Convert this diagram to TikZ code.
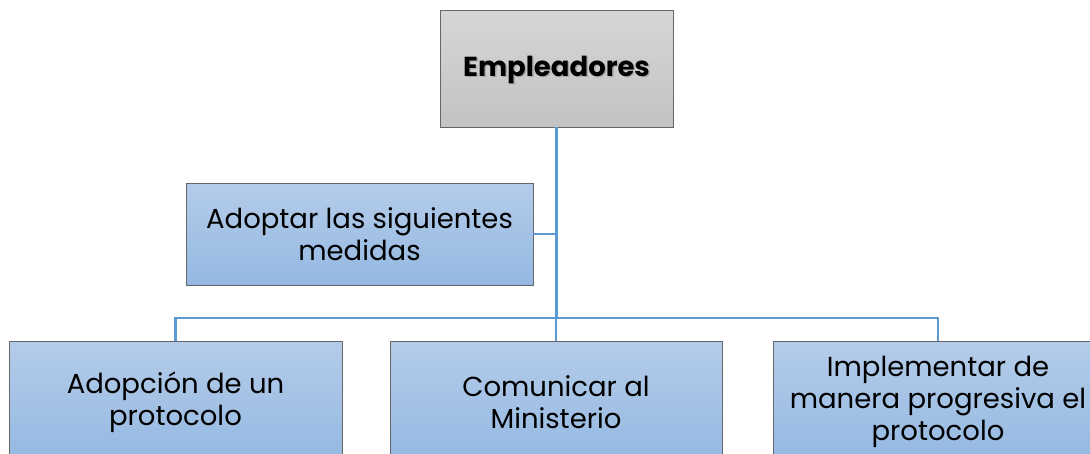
\documentclass[tikz,border=0pt]{standalone}
\usepackage{fontspec}
\setmainfont{Poppins}
\definecolor{linkblue}{HTML}{5B9BD5}
\definecolor{boxtop}{HTML}{B4CCE9}
\definecolor{boxbot}{HTML}{94B8E2}
\definecolor{greytop}{HTML}{D6D6D6}
\definecolor{greybot}{HTML}{C3C3C3}
\usetikzlibrary{shadings}
\tikzset{
  bluebox/.style={draw=gray!80!black, top color=boxtop, bottom color=boxbot,
    align=center, inner sep=0pt, font=\fontsize{27.5}{32}\selectfont},
  greybox/.style={draw=gray!80!black, top color=greytop, bottom color=greybot,
    align=center, inner sep=0pt, font=\bfseries\fontsize{27.5}{32}\selectfont},
  link/.style={draw=linkblue, line width=2.6pt}
}
\begin{document}
\begin{tikzpicture}[x=1pt,y=-1pt]
      \useasboundingbox (0,0) rectangle (1090,453);
      \clip (0,0) rectangle (1090,453);
      \node[greybox, minimum width=233pt, minimum height=117pt] (emp) at (556.5,68.5) {};
      \node[font=\bfseries\fontsize{27.5}{32}\selectfont, text=gray!70] at ([shift={(1.5,2)}]emp.center) {Empleadores};
      \node[font=\bfseries\fontsize{27.5}{32}\selectfont] (emptxt) at ([shift={(0,1)}]emp.center) {Empleadores};
      \node[bluebox, minimum width=347pt, minimum height=102pt] (med) at (359.5,234) {Adoptar las siguientes\\medidas};
      \node[bluebox, minimum width=333pt, minimum height=122pt] (proto) at (175.5,402) {Adopción de un\\protocolo};
      \node[bluebox, minimum width=332pt, minimum height=122pt] (minis) at (556,402) {Comunicar al\\Ministerio};
      \node[bluebox, minimum width=330pt, minimum height=122pt] (prog) at (938,402) {Implementar de\\manera progresiva el\\protocolo};
      \coordinate (bar) at (556.5,318);
      \draw[link] (emp.south) -- (bar);
      \draw[link] (med.east) -- (med.east -| emp.south);
      \draw[link] (proto.north) |- (bar);
      \draw[link] (minis.north) |- (bar);
      \draw[link] (prog.north) |- (bar);
    \end{tikzpicture}
\end{document}
